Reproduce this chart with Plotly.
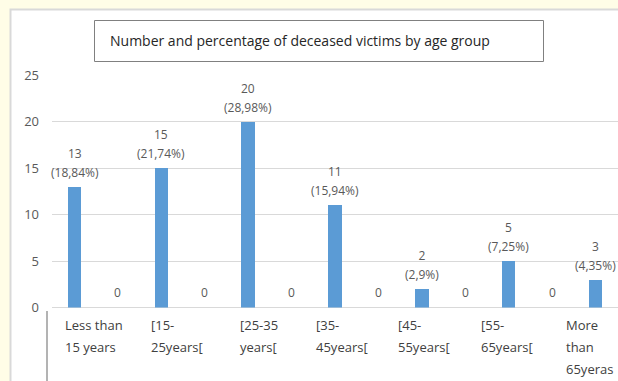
import plotly.graph_objects as go

# ---- data ----
categories = ["Less than<br>15 years", "[15-<br>25years[", "[25-35<br>years[",
              "[35-<br>45years[", "[45-<br>55years[", "[55-<br>65years[",
              "More<br>than<br>65yeras"]
deaths = [13, 15, 20, 11, 2, 5, 3]
percent_labels = ["18,84%", "21,74%", "28,98%", "15,94%", "2,9%", "7,25%", "4,35%"]
# second (empty) series; its last value falls outside the visible crop of the chart
second_series = [0, 0, 0, 0, 0, 0]
y_ticks = [0, 5, 10, 15, 20, 25]
title_text = "Number and percentage of deceased victims by age group"

# ---- layout helpers (pixel -> paper) ----
W, H = 618, 381
def px(x):
    return x / W
def py(y):
    return 1 - y / H

FONT = "Open Sans"
TXT = "#595959"
BAR = "#5B9BD5"
GRID = "#D9D9D9"

idx = list(range(len(categories)))
x_main = [i for i in idx]
x_second = [i + 0.5 for i in idx[:len(second_series)]]

fig = go.Figure()
fig.add_trace(go.Bar(x=x_main, y=deaths, width=0.158, marker=dict(color=BAR, line=dict(width=0)),
                     showlegend=False, hoverinfo="skip"))
fig.add_trace(go.Bar(x=x_second, y=second_series, width=0.158, marker=dict(color="#ED7D31", line=dict(width=0)),
                     showlegend=False, hoverinfo="skip"))

annotations = []
# value + percentage labels
for i, v, p in zip(idx, deaths, percent_labels):
    annotations.append(dict(
        x=i, y=v, xref="x", yref="y", yanchor="bottom", xanchor="center",
        text=f"<span style='font-size:12px'>{v}</span><br><span style='font-size:12px'>({p})</span>",
        font=dict(family=FONT, size=14.6, color=TXT), showarrow=False, yshift=4))
# labels of the empty series
for x, v in zip(x_second, second_series):
    annotations.append(dict(
        x=x, y=v, xref="x", yref="y", yanchor="bottom", xanchor="center",
        text=str(v), font=dict(family=FONT, size=12, color=TXT), showarrow=False, yshift=5))
# category labels on a helper axis
for i, c in zip(idx, categories):
    annotations.append(dict(
        x=i, y=py(314), xref="x2", yref="paper", yanchor="top", xanchor="center", align="left",
        text="<br>".join(f"<span style='font-size:13px'>{part}</span>" for part in c.split("<br>")),
        font=dict(family=FONT, size=17, color="#404040"), showarrow=False))
# title
annotations.append(dict(x=px(108), y=py(41), xref="paper", yref="paper", xanchor="left", yanchor="middle",
                        text=title_text, showarrow=False,
                        font=dict(family=FONT, size=14, color="#262626")))

shapes = [
    # chart area
    dict(type="rect", xref="paper", yref="paper", x0=px(10.5), x1=px(640), y0=py(400), y1=py(9.5),
         fillcolor="white", line=dict(color=GRID, width=2), layer="below"),
    # title box
    dict(type="rect", xref="paper", yref="paper", x0=px(94.5), x1=px(543.5), y0=py(61.5), y1=py(20.5),
         fillcolor="rgba(0,0,0,0)", line=dict(color="#808080", width=1), layer="above"),
    # category axis left tick line
    dict(type="line", xref="paper", yref="paper", x0=px(47), x1=px(47), y0=py(311), y1=py(381),
         line=dict(color="#808080", width=1.2)),
]

fig.update_layout(
    width=W, height=H,
    margin=dict(l=0, r=0, t=0, b=0, pad=0, autoexpand=False),
    paper_bgcolor="#FFFDE7",
    plot_bgcolor="rgba(0,0,0,0)",
    barmode="overlay",
    bargap=0,
    showlegend=False,
    annotations=annotations,
    shapes=shapes,
    xaxis=dict(domain=[px(52), 1], range=[-0.26, 6.26], showgrid=False, zeroline=False,
               showticklabels=False, showline=False, fixedrange=True, automargin=False),
    xaxis2=dict(domain=[px(52), 1], range=[-0.511, 6.344], overlaying="x", visible=False,
                anchor="y", fixedrange=True, automargin=False),
    yaxis=dict(domain=[py(307.5), py(75)], range=[0, 25], tickvals=y_ticks,
               gridcolor=GRID, gridwidth=1, zeroline=True, zerolinecolor=GRID, zerolinewidth=1,
               showline=False, ticks="", ticklabelstandoff=12, automargin=False,
               tickfont=dict(family=FONT, size=13, color=TXT), fixedrange=True),
)

fig.write_html("out.html")
